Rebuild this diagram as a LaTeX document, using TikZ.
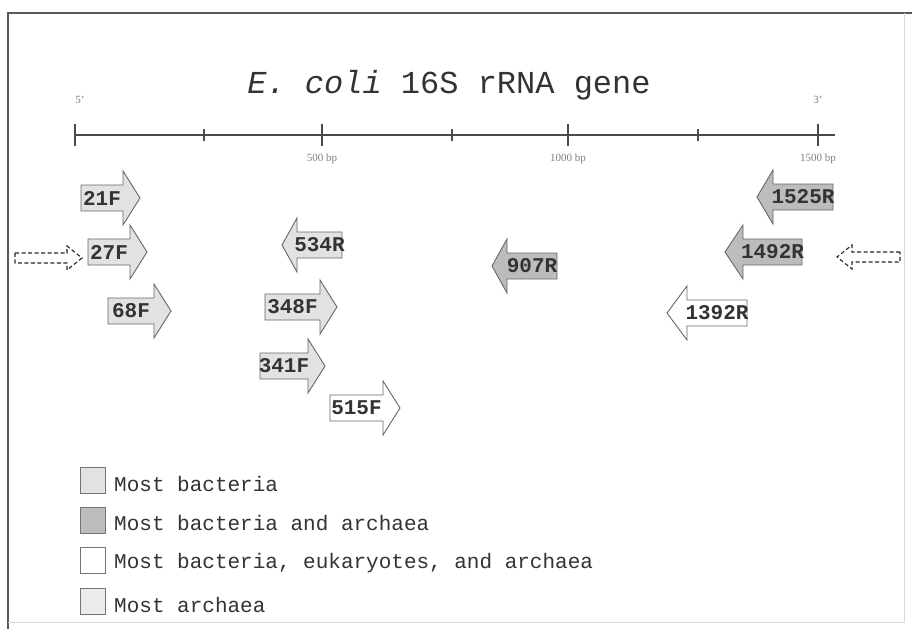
\documentclass[tikz,border=0pt]{standalone}
\usepackage{fontspec}
\setmainfont{Liberation Serif}
\setmonofont{Liberation Mono}
\usepackage{tikz}
\usetikzlibrary{calc,positioning}
\definecolor{bactfill}{HTML}{E2E2E2}
\definecolor{bothfill}{HTML}{BCBCBC}
\definecolor{allfill}{HTML}{FFFFFF}
\definecolor{archfill}{HTML}{ECECEC}
\definecolor{axisgray}{HTML}{4A4A4A}
\tikzset{
    myaxis/.style={line width=2.6pt,draw=axisgray},
    mytick/.style={line width=2.6pt,draw=axisgray},
    myprimer/.style={draw=black!60,line width=0.9pt,line join=miter},
    mydashed/.style={draw=black!85,line width=1.1pt,dash pattern=on 4pt off 2.5pt},
    mylabel/.style={font=\ttfamily\bfseries\fontsize{21}{23}\selectfont,text=black!80,inner sep=0pt},
    mybp/.style={font=\fontsize{11}{13}\selectfont,text=black!50,inner sep=0pt},
    mykey/.style={draw=black!55,line width=1pt,minimum width=25pt,minimum height=26pt,inner sep=0pt,anchor=north west},
    mykeytext/.style={font=\ttfamily\fontsize{21}{23}\selectfont,text=black!80,inner sep=0pt,yshift=-3pt}
}
\begin{document}
\begin{tikzpicture}[x=1pt,y=-1pt]
  \useasboundingbox (0,0) rectangle (916,629);
  \fill[white] (0,0) rectangle (916,629);

  % frame
  \draw[black!65,line width=1.5pt] (8,629) -- (8,13) -- (912,13);
  \draw[black!15,line width=1pt] (904,13) -- (904,622) -- (8,622);

  % title
  \node[font=\ttfamily\fontsize{32}{36}\selectfont,text=black!80] (title) at (449,85)
    {\textit{E. coli} 16S rRNA gene};

  % gene axis
  \coordinate (A0) at (75,135);
  \coordinate (A1) at (835,135);
  \draw[myaxis] (A0) -- (A1);
  \foreach \x/\h in {75/11,204/6,322/11,452/6,568/11,698/6,818/11}{
    \draw[mytick] (\x,135-\h) -- (\x,135+\h);
  }
  \node[mybp] (end5) at (80,100) {5'};
  \node[mybp] (end3) at (818,100) {3'};
  \node[mybp] (bp500)  at (322,159) {500 bp};
  \node[mybp] (bp1000) at (568,159) {1000 bp};
  \node[mybp] (bp1500) at (818,159) {1500 bp};

  % primers: name / tail x / head base x / tip x / centre y / fill
  \foreach \nm/\xa/\xb/\xt/\yc/\col in {
      21F/81/123/140/198/bactfill, 27F/88/130/147/252/bactfill,
      68F/108/154/171/311/bactfill, 348F/265/320/337/307/bactfill,
      341F/260/308/325/366/bactfill, 515F/330/383/400/408/allfill,
      534R/342/297/282/245/bactfill, 907R/557/507/492/266/bothfill,
      1392R/747/687/667/313/allfill, 1492R/802/743/725/252/bothfill,
      1525R/833/773/757/197/bothfill}{
    \draw[myprimer,fill=\col] (\xa,\yc-13) -- (\xb,\yc-13) -- (\xb,\yc-27)
      -- (\xt,\yc) -- (\xb,\yc+27) -- (\xb,\yc+13) -- (\xa,\yc+13) -- cycle;
    \node[mylabel] (p\nm) at ({(\xa+\xb)/2},\yc) {\nm};
  }

  % dashed ends
  \foreach \xa/\xb/\xt/\yc in {15/67/82/258, 900/852/837/257}{
    \draw[mydashed] (\xa,\yc-5) -- (\xb,\yc-5) -- (\xb,\yc-12)
      -- (\xt,\yc) -- (\xb,\yc+12) -- (\xb,\yc+5) -- (\xa,\yc+5) -- cycle;
  }

  % legend
  \node[mykey,fill=bactfill] (key1) at (80,467) {};
  \node[mykey,fill=bothfill] (key2) at (80,507) {};
  \node[mykey,fill=allfill]  (key3) at (80,547) {};
  \node[mykey,fill=archfill] (key4) at (80,588) {};
  \node[mykeytext,right=8pt of key1] (txt1) {Most bacteria};
  \node[mykeytext,right=8pt of key2] (txt2) {Most bacteria and archaea};
  \node[mykeytext,right=8pt of key3] (txt3) {Most bacteria, eukaryotes, and archaea};
  \node[mykeytext,right=8pt of key4] (txt4) {Most archaea};
\end{tikzpicture}
\end{document}
